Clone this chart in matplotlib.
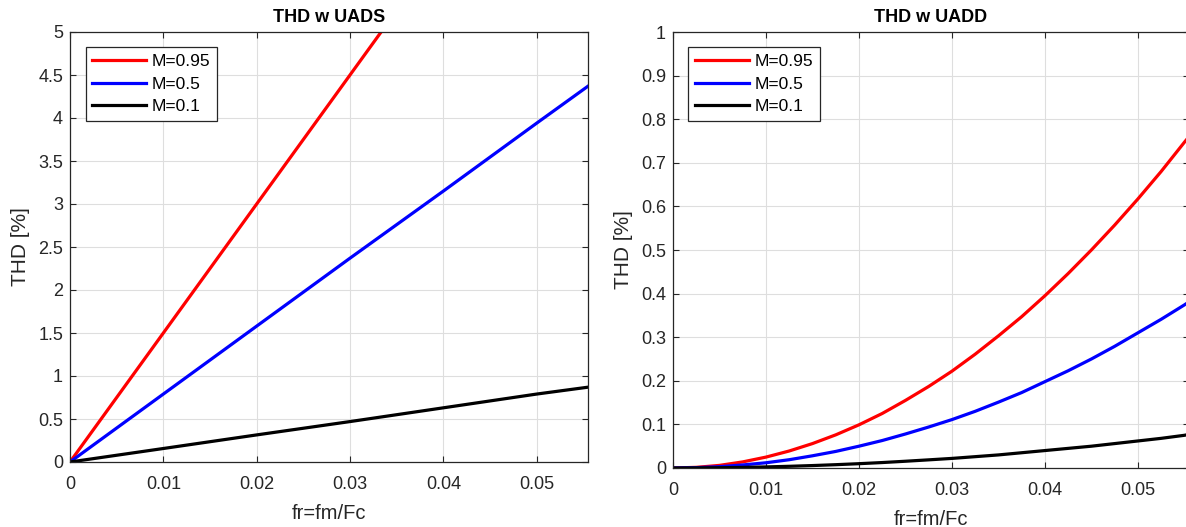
import matplotlib
matplotlib.use('Agg')
import matplotlib.pyplot as plt
from matplotlib.ticker import FuncFormatter
import numpy as np

plt.rcParams['font.family'] = ['Liberation Sans', 'DejaVu Sans']

# left panel: THD with UADS (linear in fr)
fr_uads = [0, 0.01, 0.02, 0.03, 0.04, 0.05, 0.0555]
uads_m095 = [0, 1.5, 3.0, 4.5, 6.0, 7.5, 8.33]
uads_m05 = [0, 0.79, 1.58, 2.37, 3.15, 3.94, 4.37]
uads_m01 = [0, 0.157, 0.315, 0.47, 0.63, 0.79, 0.87]

# right panel: THD with UADD (curves bending upward)
fr_uadd = [0, 0.0025, 0.005, 0.0075, 0.01, 0.0125, 0.015, 0.0175, 0.02, 0.0225,
           0.025, 0.0275, 0.03, 0.0325, 0.035, 0.0375, 0.04, 0.0425, 0.045,
           0.0475, 0.05, 0.0525, 0.055, 0.0555]
uadd_m095 = [0, 0.0015, 0.006, 0.014, 0.025, 0.039, 0.056, 0.076, 0.099, 0.125,
             0.155, 0.187, 0.222, 0.261, 0.303, 0.347, 0.395, 0.446, 0.50,
             0.557, 0.617, 0.680, 0.747, 0.76]
uadd_m05 = [0, 0.0008, 0.003, 0.007, 0.012, 0.019, 0.028, 0.038, 0.05, 0.063,
            0.078, 0.094, 0.111, 0.130, 0.151, 0.173, 0.198, 0.223, 0.25,
            0.279, 0.31, 0.341, 0.374, 0.381]
uadd_m01 = [0, 0.0002, 0.0006, 0.0014, 0.0025, 0.0039, 0.0056, 0.0076, 0.0099, 0.0125,
            0.0155, 0.0187, 0.022, 0.026, 0.030, 0.035, 0.040, 0.045, 0.050,
            0.056, 0.062, 0.068, 0.075, 0.077]

labels = ['M=0.95', 'M=0.5', 'M=0.1']
colors = ['#ff0000', '#0000ff', '#000000']

txt = '#262626'
W, H = 1186, 527
fig = plt.figure(figsize=(W / 100, H / 100), dpi=100)

def px_axes(x0, y0, x1, y1):
    return fig.add_axes([x0 / W, 1 - y1 / H, (x1 - x0) / W, (y1 - y0) / H])

def gfmt(v, pos):
    return '%g' % round(v, 4)

def style(ax, title, yticks, ylim):
    ax.set_xlim(0, 0.0555)
    ax.set_ylim(*ylim)
    ax.set_xticks([0, 0.01, 0.02, 0.03, 0.04, 0.05])
    ax.set_yticks(yticks)
    ax.xaxis.set_major_formatter(FuncFormatter(gfmt))
    ax.yaxis.set_major_formatter(FuncFormatter(gfmt))
    ax.grid(True, color='#dedede', linewidth=0.8)
    ax.set_axisbelow(True)
    ax.tick_params(direction='in', length=4, width=0.8, colors=txt, labelsize=13,
                   top=True, right=True)
    ax.tick_params(axis='x', pad=10)
    ax.tick_params(axis='y', pad=5)
    for s in ax.spines.values():
        s.set_color(txt)
        s.set_linewidth(0.9)
    ax.set_title(title, fontsize=13, fontweight='bold', color='#000000', pad=7)
    ax.set_xlabel('fr=fm/Fc', fontsize=14.5, color=txt, labelpad=8)
    ax.set_ylabel('THD [%]', fontsize=15, color=txt, labelpad=6)

def legend(ax):
    leg = ax.legend(loc='upper left', bbox_to_anchor=(0.03, 0.965), fontsize=12.5,
                    handlelength=3.1, handletextpad=0.3, labelspacing=0.42,
                    borderpad=0.4, borderaxespad=0, fancybox=False, framealpha=1,
                    edgecolor=txt)
    leg.get_frame().set_linewidth(0.9)

ax1 = px_axes(70, 32, 588, 462)
for y, c, l in zip([uads_m095, uads_m05, uads_m01], colors, labels):
    ax1.plot(fr_uads, y, color=c, linewidth=2.3, label=l)
style(ax1, 'THD w UADS', np.arange(0, 5.01, 0.5), (0, 5))
legend(ax1)

ax2 = px_axes(673, 32, 1189, 468)
for y, c, l in zip([uadd_m095, uadd_m05, uadd_m01], colors, labels):
    ax2.plot(fr_uadd, y, color=c, linewidth=2.3, label=l)
style(ax2, 'THD w UADD', np.arange(0, 1.001, 0.1), (0, 1))
legend(ax2)

fig.savefig('out.png', dpi=100)
